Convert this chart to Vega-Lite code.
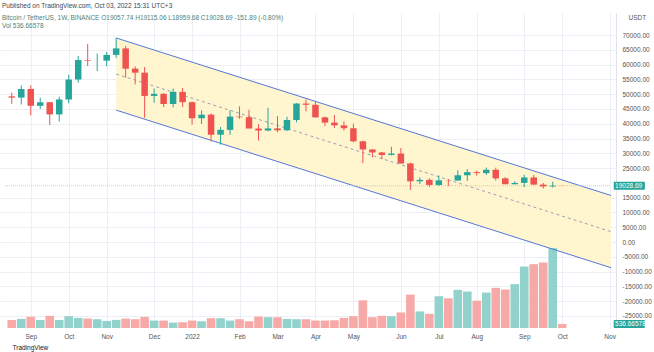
{
  "$schema": "https://vega.github.io/schema/vega-lite/v6.json",
  "width": 616,
  "height": 315,
  "autosize": {"type": "none"},
  "padding": {"left": 0, "top": 13, "right": 38, "bottom": 24},
  "background": "white",
  "config": {"view": {"stroke": null}, "font": "Liberation Sans"},
  "title": {
    "text": "Published on TradingView.com, Oct 03, 2022 15:31 UTC+3",
    "subtitle": ["\u00a0\u00a0Bitcoin / TetherUS, 1W, BINANCE  O19057.74 H19115.06 L18959.68 C19028.69 -151.89 (-0.80%)", "\u00a0\u00a0Vol  536.66578"],
    "anchor": "start",
    "frame": "group",
    "orient": "top",
    "dx": 2,
    "offset": -16,
    "fontSize": 6.5,
    "fontWeight": "normal",
    "color": "#434651",
    "subtitleFontSize": 6.5,
    "subtitleColor": "#4f7f79",
    "subtitleLineHeight": 8,
    "subtitlePadding": 5
  },
  "datasets": {
    "candles": [
      {"date": "2021-08-23", "open": 49254, "high": 50500, "low": 46700, "close": 48830, "volume": 240000},
      {"date": "2021-08-30", "open": 48830, "high": 52920, "low": 46512, "close": 51750, "volume": 270000},
      {"date": "2021-09-06", "open": 51750, "high": 52920, "low": 42843, "close": 46060, "volume": 330000},
      {"date": "2021-09-13", "open": 46060, "high": 48840, "low": 45000, "close": 47260, "volume": 240000},
      {"date": "2021-09-20", "open": 47260, "high": 47360, "low": 39600, "close": 43160, "volume": 360000},
      {"date": "2021-09-27", "open": 43160, "high": 49140, "low": 40750, "close": 48200, "volume": 240000},
      {"date": "2021-10-04", "open": 48200, "high": 56560, "low": 46890, "close": 54950, "volume": 350000},
      {"date": "2021-10-11", "open": 54950, "high": 62930, "low": 53880, "close": 61530, "volume": 300000},
      {"date": "2021-10-18", "open": 61530, "high": 67000, "low": 59510, "close": 61310, "volume": 280000},
      {"date": "2021-10-25", "open": 61310, "high": 63710, "low": 57820, "close": 61320, "volume": 260000},
      {"date": "2021-11-01", "open": 61320, "high": 64270, "low": 59410, "close": 63270, "volume": 210000},
      {"date": "2021-11-08", "open": 63270, "high": 69000, "low": 62280, "close": 65470, "volume": 240000},
      {"date": "2021-11-15", "open": 65470, "high": 66280, "low": 55600, "close": 58620, "volume": 280000},
      {"date": "2021-11-22", "open": 58620, "high": 59400, "low": 53260, "close": 57270, "volume": 260000},
      {"date": "2021-11-29", "open": 57270, "high": 59180, "low": 42000, "close": 49400, "volume": 330000},
      {"date": "2021-12-06", "open": 49400, "high": 51940, "low": 47100, "close": 50100, "volume": 220000},
      {"date": "2021-12-13", "open": 50100, "high": 50380, "low": 45670, "close": 46680, "volume": 220000},
      {"date": "2021-12-20", "open": 46680, "high": 51870, "low": 45560, "close": 50780, "volume": 160000},
      {"date": "2021-12-27", "open": 50780, "high": 52090, "low": 45680, "close": 47290, "volume": 170000},
      {"date": "2022-01-03", "open": 47290, "high": 47570, "low": 39650, "close": 41860, "volume": 220000},
      {"date": "2022-01-10", "open": 41860, "high": 44500, "low": 39900, "close": 43070, "volume": 200000},
      {"date": "2022-01-17", "open": 43070, "high": 43510, "low": 34010, "close": 36280, "volume": 290000},
      {"date": "2022-01-24", "open": 36280, "high": 38920, "low": 32920, "close": 37920, "volume": 290000},
      {"date": "2022-01-31", "open": 37920, "high": 44500, "low": 36250, "close": 42410, "volume": 220000},
      {"date": "2022-02-07", "open": 42410, "high": 45860, "low": 41650, "close": 42200, "volume": 260000},
      {"date": "2022-02-14", "open": 42200, "high": 44750, "low": 39450, "close": 38380, "volume": 200000},
      {"date": "2022-02-21", "open": 38380, "high": 39850, "low": 34320, "close": 37700, "volume": 340000},
      {"date": "2022-02-28", "open": 37700, "high": 45400, "low": 37450, "close": 38420, "volume": 320000},
      {"date": "2022-03-07", "open": 38420, "high": 42590, "low": 37160, "close": 37780, "volume": 320000},
      {"date": "2022-03-14", "open": 37780, "high": 42330, "low": 37580, "close": 41260, "volume": 270000},
      {"date": "2022-03-21", "open": 41260, "high": 47000, "low": 40470, "close": 46830, "volume": 260000},
      {"date": "2022-03-28", "open": 46830, "high": 48190, "low": 44200, "close": 46410, "volume": 260000},
      {"date": "2022-04-04", "open": 46410, "high": 47440, "low": 42110, "close": 42160, "volume": 220000},
      {"date": "2022-04-11", "open": 42160, "high": 42410, "low": 39200, "close": 40380, "volume": 220000},
      {"date": "2022-04-18", "open": 40380, "high": 42980, "low": 38540, "close": 39450, "volume": 230000},
      {"date": "2022-04-25", "open": 39450, "high": 40800, "low": 37700, "close": 38470, "volume": 300000},
      {"date": "2022-05-02", "open": 38470, "high": 40020, "low": 33710, "close": 34060, "volume": 350000},
      {"date": "2022-05-09", "open": 34060, "high": 34240, "low": 26700, "close": 31300, "volume": 820000},
      {"date": "2022-05-16", "open": 31300, "high": 31350, "low": 28630, "close": 30290, "volume": 320000},
      {"date": "2022-05-23", "open": 30290, "high": 30490, "low": 28020, "close": 29450, "volume": 360000},
      {"date": "2022-05-30", "open": 29450, "high": 32220, "low": 29300, "close": 29920, "volume": 350000},
      {"date": "2022-06-06", "open": 29920, "high": 31780, "low": 26560, "close": 26570, "volume": 460000},
      {"date": "2022-06-13", "open": 26570, "high": 26880, "low": 17620, "close": 20550, "volume": 990000},
      {"date": "2022-06-20", "open": 20550, "high": 21870, "low": 19640, "close": 21030, "volume": 490000},
      {"date": "2022-06-27", "open": 21030, "high": 21540, "low": 18630, "close": 19300, "volume": 420000},
      {"date": "2022-07-04", "open": 19300, "high": 22530, "low": 19000, "close": 20850, "volume": 940000},
      {"date": "2022-07-11", "open": 20850, "high": 21200, "low": 18910, "close": 20790, "volume": 880000},
      {"date": "2022-07-18", "open": 20790, "high": 24280, "low": 20750, "close": 22580, "volume": 1130000},
      {"date": "2022-07-25", "open": 22580, "high": 24670, "low": 20710, "close": 23630, "volume": 1080000},
      {"date": "2022-08-01", "open": 23630, "high": 24200, "low": 22410, "close": 23300, "volume": 810000},
      {"date": "2022-08-08", "open": 23300, "high": 25210, "low": 22660, "close": 24440, "volume": 1050000},
      {"date": "2022-08-15", "open": 24440, "high": 25140, "low": 20760, "close": 21530, "volume": 1190000},
      {"date": "2022-08-22", "open": 21530, "high": 21900, "low": 19520, "close": 19550, "volume": 1140000},
      {"date": "2022-08-29", "open": 19550, "high": 20580, "low": 19520, "close": 20000, "volume": 1300000},
      {"date": "2022-09-05", "open": 20000, "high": 22800, "low": 18540, "close": 21830, "volume": 1820000},
      {"date": "2022-09-12", "open": 21830, "high": 22670, "low": 19320, "close": 19420, "volume": 1890000},
      {"date": "2022-09-19", "open": 19420, "high": 19960, "low": 18125, "close": 18800, "volume": 1940000},
      {"date": "2022-09-26", "open": 18800, "high": 20390, "low": 18470, "close": 19058, "volume": 2370000},
      {"date": "2022-10-03", "open": 19057.74, "high": 19115.06, "low": 18959.68, "close": 19028.69, "volume": 120000}
    ],
    "channel": [
      {"date": "2021-11-08", "upper": 69000, "mid": 56800, "lower": 44600},
      {"date": "2022-11-08", "upper": 15735, "mid": 3535, "lower": -8665}
    ],
    "tags": [
      {"label": "19028.69", "lo": 17650, "hi": 20400, "mid": 19028.69},
      {"label": "536.66578", "lo": -29060, "hi": -26360, "mid": -27710}
    ]
  },
  "resolve": {"scale": {"y": "independent"}},
  "layer": [
    {
      "data": {"name": "channel"},
      "mark": {"type": "area", "color": "#fff5cf"},
      "encoding": {
        "x": {
          "field": "date",
          "type": "temporal",
          "scale": {"type": "utc", "nice": false, "domain": [{"year": 2021, "month": 8, "date": 18, "utc": true}, {"year": 2022, "month": 11, "date": 8, "utc": true}]},
          "axis": {
            "values": [
              {"year": 2021, "month": 9, "date": 6, "utc": true},
              {"year": 2021, "month": 10, "date": 4, "utc": true},
              {"year": 2021, "month": 11, "date": 1, "utc": true},
              {"year": 2021, "month": 12, "date": 6, "utc": true},
              {"year": 2022, "month": 1, "date": 3, "utc": true},
              {"year": 2022, "month": 2, "date": 7, "utc": true},
              {"year": 2022, "month": 3, "date": 7, "utc": true},
              {"year": 2022, "month": 4, "date": 4, "utc": true},
              {"year": 2022, "month": 5, "date": 2, "utc": true},
              {"year": 2022, "month": 6, "date": 6, "utc": true},
              {"year": 2022, "month": 7, "date": 4, "utc": true},
              {"year": 2022, "month": 8, "date": 1, "utc": true},
              {"year": 2022, "month": 9, "date": 5, "utc": true},
              {"year": 2022, "month": 10, "date": 3, "utc": true},
              {"year": 2022, "month": 11, "date": 7, "utc": true}
            ],
            "labelExpr": "utcFormat(datum.value, '%m') == '01' ? utcFormat(datum.value, '%Y') : utcFormat(datum.value, '%b')",
            "ticks": false,
            "domain": false,
            "labelFontSize": 6.5,
            "labelColor": "#555555",
            "labelPadding": 5,
            "labelFlush": false,
            "labelOverlap": false,
            "labelBound": false,
            "grid": true,
            "gridColor": "#eceff5",
            "title": "TradingView",
            "titleAnchor": "start",
            "titleAlign": "left",
            "titleBaseline": "middle",
            "titleX": 12,
            "titleY": 19,
            "titleFontSize": 6.5,
            "titleFontWeight": "normal",
            "titleColor": "#131722"
          }
        },
        "y": {
          "field": "upper",
          "type": "quantitative",
          "scale": {"domain": [-29060, 77440], "nice": false, "zero": false},
          "axis": {
            "orient": "right",
            "values": [70000, 65000, 60000, 55000, 50000, 45000, 40000, 35000, 30000, 25000, 15000, 10000, 5000, 0, -5000, -10000, -15000, -20000, -25000],
            "labelExpr": "replace(format(datum.value, '.2f'), '\u2212', '-')",
            "labelAlign": "left",
            "labelBaseline": "middle",
            "labelPadding": 6,
            "labelFontSize": 6.5,
            "labelColor": "#555555",
            "labelOverlap": false,
            "labelBound": false,
            "labelFlush": false,
            "ticks": false,
            "grid": true,
            "gridColor": "#eceff5",
            "domainColor": "#e0e3eb",
            "title": "USDT",
            "titleAngle": 0,
            "titleAlign": "left",
            "titleBaseline": "middle",
            "titleX": 12,
            "titleY": 4,
            "titleFontSize": 6.5,
            "titleFontWeight": "normal",
            "titleColor": "#555555"
          }
        },
        "y2": {"field": "lower"}
      }
    },
    {
      "data": {"name": "candles"},
      "mark": {"type": "bar", "size": 8.6},
      "encoding": {
        "x": {"field": "date", "type": "temporal"},
        "y": {"field": "volume", "type": "quantitative", "scale": {"domain": [0, 9332000], "nice": false}, "axis": null},
        "color": {"condition": {"test": "datum.close >= datum.open", "value": "#92d2cc"}, "value": "#f7a9a7"}
      }
    },
    {
      "data": {"name": "channel"},
      "mark": {"type": "line", "color": "#5677d6", "strokeWidth": 1},
      "encoding": {
        "x": {"field": "date", "type": "temporal"},
        "y": {"field": "upper", "type": "quantitative", "scale": {"domain": [-29060, 77440], "nice": false, "zero": false}, "axis": null}
      }
    },
    {
      "data": {"name": "channel"},
      "mark": {"type": "line", "color": "#5677d6", "strokeWidth": 1},
      "encoding": {
        "x": {"field": "date", "type": "temporal"},
        "y": {"field": "lower", "type": "quantitative", "scale": {"domain": [-29060, 77440], "nice": false, "zero": false}, "axis": null}
      }
    },
    {
      "data": {"name": "channel"},
      "mark": {"type": "line", "color": "#9aa3b5", "strokeWidth": 1, "strokeDash": [3, 3]},
      "encoding": {
        "x": {"field": "date", "type": "temporal"},
        "y": {"field": "mid", "type": "quantitative", "scale": {"domain": [-29060, 77440], "nice": false, "zero": false}, "axis": null}
      }
    },
    {
      "data": {"name": "tags"},
      "mark": {"type": "rule", "color": "#a8dcd7", "strokeWidth": 1, "strokeDash": [1, 1]},
      "transform": [{"filter": "datum.label == '19028.69'"}],
      "encoding": {
        "x": {"datum": {"year": 2021, "month": 8, "date": 18, "utc": true}, "type": "temporal"},
        "x2": {"datum": {"year": 2022, "month": 11, "date": 8, "utc": true}},
        "y": {"field": "mid", "type": "quantitative", "scale": {"domain": [-29060, 77440], "nice": false, "zero": false}, "axis": null}
      }
    },
    {
      "data": {"name": "candles"},
      "mark": {"type": "rule", "strokeWidth": 1},
      "encoding": {
        "x": {"field": "date", "type": "temporal"},
        "y": {"field": "low", "type": "quantitative", "scale": {"domain": [-29060, 77440], "nice": false, "zero": false}, "axis": null},
        "y2": {"field": "high"},
        "color": {"condition": {"test": "datum.close >= datum.open", "value": "#26a69a"}, "value": "#ef5350"}
      }
    },
    {
      "data": {"name": "candles"},
      "mark": {"type": "bar", "size": 6.5},
      "encoding": {
        "x": {"field": "date", "type": "temporal"},
        "y": {"field": "open", "type": "quantitative", "scale": {"domain": [-29060, 77440], "nice": false, "zero": false}, "axis": null},
        "y2": {"field": "close"},
        "color": {"condition": {"test": "datum.close >= datum.open", "value": "#26a69a"}, "value": "#ef5350"}
      }
    },
    {
      "data": {"name": "tags"},
      "mark": {"type": "rect", "color": "#26a69a", "cornerRadius": 1, "clip": false},
      "encoding": {
        "x": {"datum": {"year": 2022, "month": 11, "date": 10, "utc": true}, "type": "temporal"},
        "x2": {"datum": {"year": 2022, "month": 12, "date": 3, "utc": true}},
        "y": {"field": "lo", "type": "quantitative", "scale": {"domain": [-29060, 77440], "nice": false, "zero": false}, "axis": null},
        "y2": {"field": "hi"}
      }
    },
    {
      "data": {"name": "tags"},
      "mark": {"type": "text", "color": "white", "fontSize": 6.5, "align": "left", "baseline": "middle", "clip": false},
      "encoding": {
        "x": {"datum": {"year": 2022, "month": 11, "date": 11, "utc": true}, "type": "temporal"},
        "y": {"field": "mid", "type": "quantitative", "scale": {"domain": [-29060, 77440], "nice": false, "zero": false}, "axis": null},
        "text": {"field": "label"}
      }
    }
  ]
}
